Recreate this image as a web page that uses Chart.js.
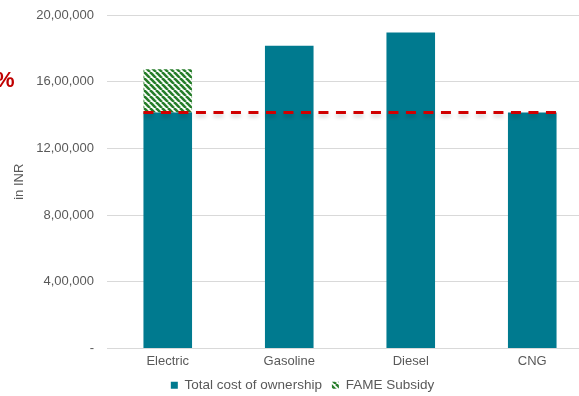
<!DOCTYPE html>
<html>
<head>
<meta charset="utf-8">
<script src="https://cdn.jsdelivr.net/npm/chart.js@4"></script>
<style>
  html, body { margin: 0; padding: 0; background: #fff; overflow: hidden; }
  #wrap { position: relative; width: 579px; height: 396px; overflow: hidden; }
  #chartBox { position: absolute; left: 0; top: 0; width: 600px; height: 402px; }
  .pct { position: absolute; left: -5px; top: 69px; font: bold 22px "Liberation Sans", Arial, sans-serif; line-height: 22px; color: #C00000; }
</style>
</head>
<body>
<div id="wrap">
  <div id="chartBox"><canvas id="myChart" width="600" height="402"></canvas></div>
  <div class="pct">%</div>
</div>
<script>
// 차량별 총소유비용 (INR)
const categories = ["Electric", "Gasoline", "Diesel", "CNG"];
const tcoValues = [1415000, 1815000, 1895000, 1415000];
const subsidyValues = [260000, null, null, null];
const yTicks = [0, 400000, 800000, 1200000, 1600000, 2000000];
// 기준선 (전기차 TCO)
const refLine = 1415000;

const teal = "#007A8F";
const textGrey = "#595959";

// 초록 사선 패턴 만들기
function makeHatch() {
  const s = 6;
  const c = document.createElement("canvas");
  c.width = s;
  c.height = s;
  const g = c.getContext("2d");
  g.fillStyle = "#ffffff";
  g.fillRect(0, 0, s, s);
  g.strokeStyle = "#267D2A";
  g.lineWidth = 2.6;
  for (let k = -s; k <= s; k += s) {
    g.beginPath();
    g.moveTo(k, 0);
    g.lineTo(k + s, s);
    g.stroke();
  }
  return g.createPattern(c, "repeat");
}

const hatch = makeHatch();

// 빨간 점선 그리기 (첫 막대 왼쪽 ~ 마지막 막대 오른쪽)
const refLinePlugin = {
  id: "refLine",
  afterDatasetsDraw(chart) {
    const meta = chart.getDatasetMeta(0);
    const first = meta.data[0];
    const last = meta.data[meta.data.length - 1];
    const y = chart.scales.y.getPixelForValue(refLine);
    const x0 = first.x - first.width / 2;
    const x1 = last.x + last.width / 2;
    const ctx = chart.ctx;
    ctx.save();
    ctx.strokeStyle = "#D00000";
    ctx.lineWidth = 3;
    ctx.setLineDash([10, 7.5]);
    ctx.shadowColor = "rgba(0,0,0,0.2)";
    ctx.shadowBlur = 4;
    ctx.shadowOffsetY = 3;
    ctx.beginPath();
    ctx.moveTo(x0, y);
    ctx.lineTo(x1, y);
    ctx.stroke();
    ctx.restore();
  },
};

const ctx = document.getElementById("myChart").getContext("2d");
const myChart = new Chart(ctx, {
  type: "bar",
  data: {
    labels: categories,
    datasets: [
      {
        label: "Total cost of ownership",
        data: tcoValues,
        backgroundColor: teal,
        barPercentage: 0.4,
        categoryPercentage: 1,
      },
      {
        label: "FAME Subsidy",
        data: subsidyValues,
        backgroundColor: hatch,
        barPercentage: 0.4,
        categoryPercentage: 1,
      },
    ],
  },
  options: {
    responsive: false,
    animation: false,
    layout: {
      padding: { top: 15, right: 7, bottom: 0, left: 12 },
    },
    plugins: {
      legend: {
        position: "bottom",
        labels: {
          boxWidth: 7,
          boxHeight: 7,
          padding: 10,
          color: textGrey,
          font: { family: "Liberation Sans", size: 13.5 },
        },
      },
      tooltip: { enabled: false },
    },
    scales: {
      x: {
        stacked: true,
        afterFit(scale) {
          scale.height = 20;
        },
        grid: { display: false, drawTicks: false },
        border: { color: "#D9D9D9" },
        ticks: {
          color: textGrey,
          padding: 5,
          font: { family: "Liberation Sans", size: 13 },
        },
      },
      y: {
        stacked: true,
        min: 0,
        max: 2000000,
        afterFit(scale) {
          scale.width = 95;
          scale.paddingTop = 0;
          scale.paddingBottom = 0;
        },
        afterBuildTicks(scale) {
          scale.ticks = yTicks.map((v) => ({ value: v }));
        },
        grid: { color: "#D9D9D9", drawTicks: false },
        border: { display: false },
        ticks: {
          color: textGrey,
          padding: 13,
          font: { family: "Liberation Sans", size: 13 },
          callback: (v) => (v === 0 ? "-" : v.toLocaleString("en-IN")),
        },
        title: {
          display: true,
          text: "in INR",
          color: textGrey,
          padding: { top: 0 },
          font: { family: "Liberation Sans", size: 13 },
        },
      },
    },
  },
  plugins: [refLinePlugin],
});
</script>
</body>
</html>
